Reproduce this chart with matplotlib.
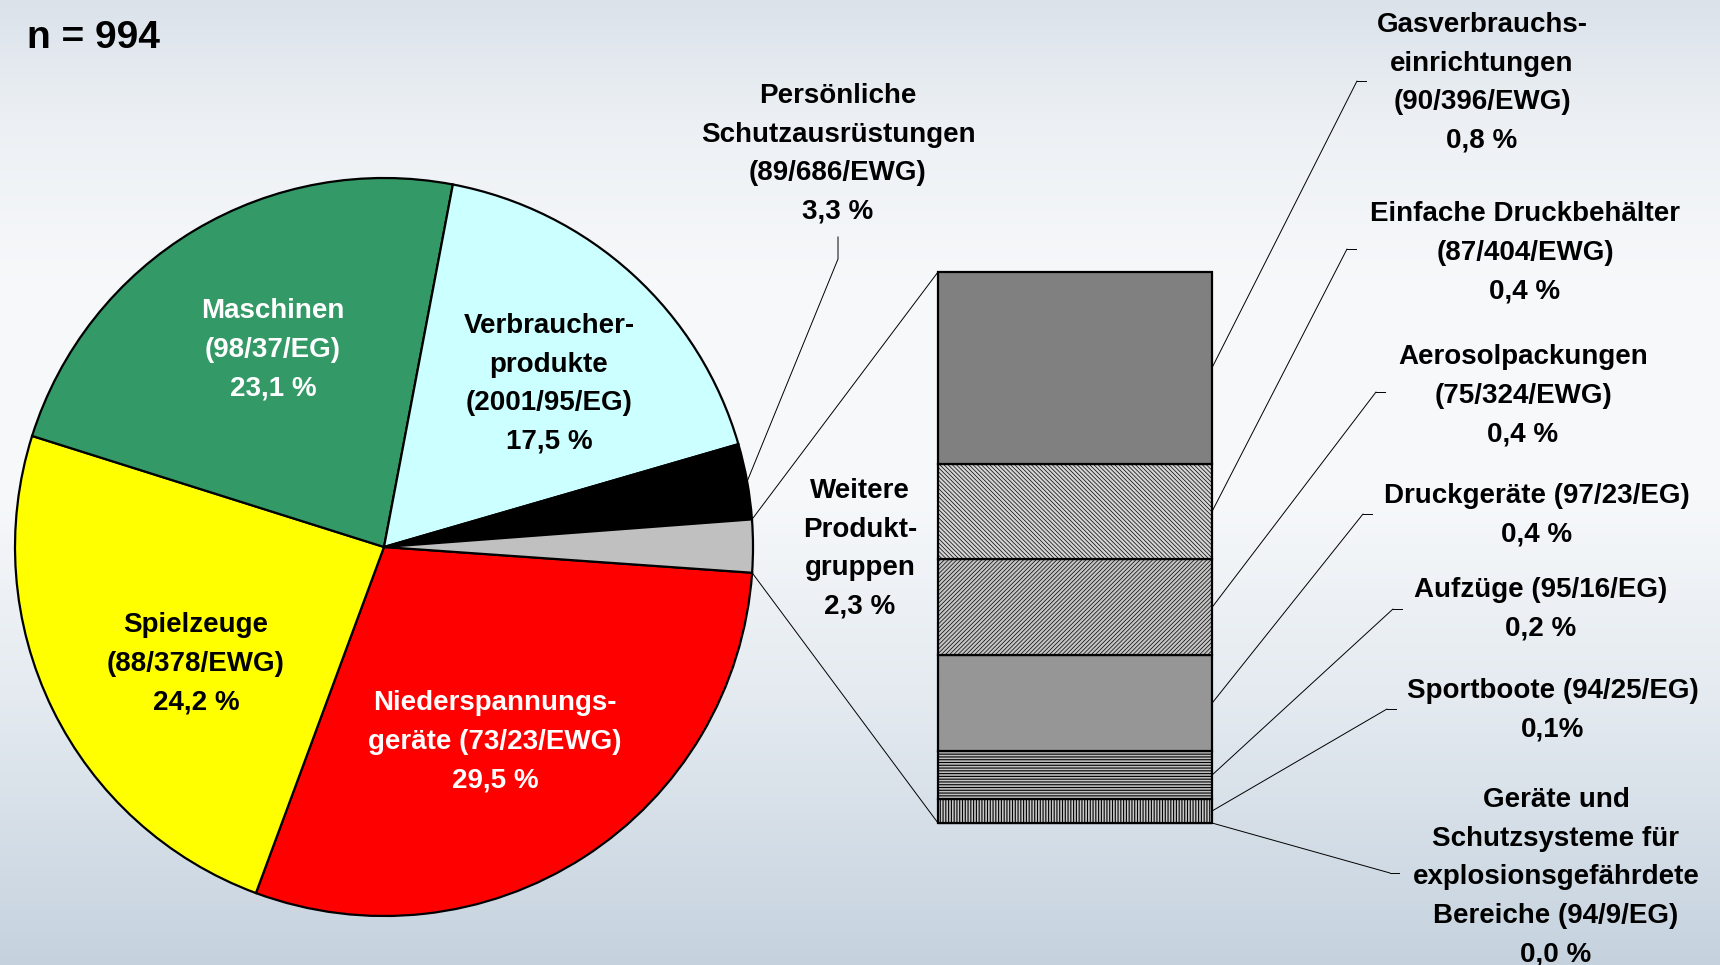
import numpy as np
import matplotlib
matplotlib.use("Agg")
import matplotlib.pyplot as plt
from matplotlib.patches import ConnectionPatch

plt.rcParams['font.family'] = ['Liberation Sans', 'DejaVu Sans']
plt.rcParams['hatch.linewidth'] = 0.6

# ---------------- data ----------------
n_total = 994
pie_names = ["Niederspannungs-\ngeräte (73/23/EWG)", "Spielzeuge\n(88/378/EWG)",
             "Maschinen\n(98/37/EG)", "Verbraucher-\nprodukte\n(2001/95/EG)",
             "Persönliche\nSchutzausrüstungen\n(89/686/EWG)", "Weitere\nProdukt-\ngruppen"]
pie_values = [29.5, 24.2, 23.1, 17.5, 3.3, 2.3]
pie_pct = ["29,5 %", "24,2 %", "23,1 %", "17,5 %", "3,3 %", "2,3 %"]

bar_names = ["Geräte und\nSchutzsysteme für\nexplosionsgefährdete\nBereiche (94/9/EG)",
             "Sportboote (94/25/EG)", "Aufzüge (95/16/EG)", "Druckgeräte (97/23/EG)",
             "Aerosolpackungen\n(75/324/EWG)", "Einfache Druckbehälter\n(87/404/EWG)",
             "Gasverbrauchs-\neinrichtungen\n(90/396/EWG)"]
bar_values = [0.0, 0.1, 0.2, 0.4, 0.4, 0.4, 0.8]
bar_pct = ["0,0 %", "0,1%", "0,2 %", "0,4 %", "0,4 %", "0,4 %", "0,8 %"]

# ---------------- styles / layout ----------------
W, H = 1720, 965
pie_colors = ['#FF0000', '#FFFF00', '#339966', '#CCFFFF', '#000000', '#C0C0C0']
pie_text_colors = ['white', 'black', 'white', 'black', 'black', 'black']
pie_label_pos = [(495, 710), (196, 632), (273, 318), (549, 333), (838, 103), (860, 498)]
bar_faces = ['#FFFFFF', '#C8C8C8', '#C0C0C0', '#969696', '#C4C4C4', '#D4D4D4', '#808080']
bar_hatches = [None, '|' * 6, '-' * 6, None, '/' * 8, '\\' * 8, None]
bar_hatch_lw = [0.6, 0.8, 0.8, 0.6, 0.5, 0.5, 0.6]
bar_label_pos = [(1556, 807), (1553, 698), (1541, 597), (1537, 503), (1523, 364), (1525, 221), (1482, 32)]
bar_leader_end = [(1390, 873), (1387, 709), (1393, 609), (1363, 514), (1376, 392), (1347, 249), (1357, 81)]
LINE = 38.6
FS = 20


def Y(y):
    return H - y


fig = plt.figure(figsize=(W / 100, H / 100), dpi=100)
ax = fig.add_axes([0, 0, 1, 1])

# background gradient
stops_y = [0, 120, 300, 500, 700, 965]
stops_c = np.array([(219, 226, 234), (236, 240, 244), (248, 249, 251), (246, 248, 250),
                    (228, 234, 240), (197, 210, 222)]) / 255.0
yy = np.arange(H)
grad = np.stack([np.interp(yy, stops_y, stops_c[:, k]) for k in range(3)], axis=-1)
ax.imshow(grad[:, None, :], extent=(0, W, 0, H), aspect='auto', origin='upper', zorder=0)

# pie
cx, cy, R = 384, Y(547), 369
wedges, _ = ax.pie(pie_values, colors=pie_colors, startangle=-4.0, counterclock=False,
                   center=(cx, cy), radius=R,
                   wedgeprops=dict(edgecolor='black', linewidth=1.6))
for w in wedges:
    w.set_zorder(2)
ax.set_xlim(0, W)
ax.set_ylim(0, H)
ax.set_aspect('auto')
ax.axis('off')


def multiline(x, y0, lines, color='black', size=FS):
    for i, t in enumerate(lines):
        ax.text(x, Y(y0 + i * LINE), t, ha='center', va='baseline', color=color,
                fontsize=size, fontweight='bold', zorder=5)


for name, pct, pos, col in zip(pie_names, pie_pct, pie_label_pos, pie_text_colors):
    multiline(pos[0], pos[1], name.split('\n') + [pct], color=col)

ax.text(27, Y(48), f"n = {n_total}", ha='left', va='baseline', fontsize=28,
        fontweight='bold', color='black', zorder=5)

# PSA leader
w_psa = wedges[4]
a = np.deg2rad((w_psa.theta1 + w_psa.theta2) / 2)
p0 = (cx + R * np.cos(a), cy + R * np.sin(a))
ax.plot([p0[0], 838, 838], [p0[1], Y(259), Y(237)], color='black', lw=0.7, zorder=3)

# stacked bar in its own axes
bx_left, bx_right, bx_top, bx_bot = 938, 1212, 272, 823
bx = fig.add_axes([bx_left / W, (H - bx_bot) / H, (bx_right - bx_left) / W, (bx_bot - bx_top) / H])
bx.patch.set_alpha(0)
total = sum(bar_values)
bottoms = np.concatenate([[0], np.cumsum(bar_values)[:-1]])
rects = bx.bar([0.5] * len(bar_values), bar_values, bottom=bottoms, width=1.0,
               color=bar_faces, edgecolor='black', linewidth=1.6)
for r, h, hl in zip(rects, bar_hatches, bar_hatch_lw):
    r.set_clip_on(False)
    if h:
        r.set_hatch(h)
        try:
            r.set_hatch_linewidth(hl)
        except Exception:
            pass
bx.set_xlim(0, 1)
bx.set_ylim(0, total)
bx.axis('off')

# connectors from grey wedge to bar
w_rest = wedges[5]
for ang, yb in [(max(w_rest.theta1, w_rest.theta2), total), (min(w_rest.theta1, w_rest.theta2), 0)]:
    a = np.deg2rad(ang)
    pa = (cx + R * np.cos(a), cy + R * np.sin(a))
    con = ConnectionPatch(xyA=pa, coordsA=ax.transData, xyB=(0, yb), coordsB=bx.transData,
                          color='black', lw=0.7, zorder=3)
    fig.add_artist(con)

# bar labels and leaders
for i, (name, pct, pos, end) in enumerate(zip(bar_names, bar_pct, bar_label_pos, bar_leader_end)):
    multiline(pos[0], pos[1], name.split('\n') + [pct])
    ymid = bottoms[i] + bar_values[i] / 2
    con = ConnectionPatch(xyA=(1, ymid), coordsA=bx.transData, xyB=(end[0], Y(end[1])),
                          coordsB=ax.transData, color='black', lw=0.7, zorder=3)
    fig.add_artist(con)
    ax.plot([end[0], end[0] + 9], [Y(end[1]), Y(end[1])], color='black', lw=0.7, zorder=3)

fig.savefig('out.png', dpi=100)
